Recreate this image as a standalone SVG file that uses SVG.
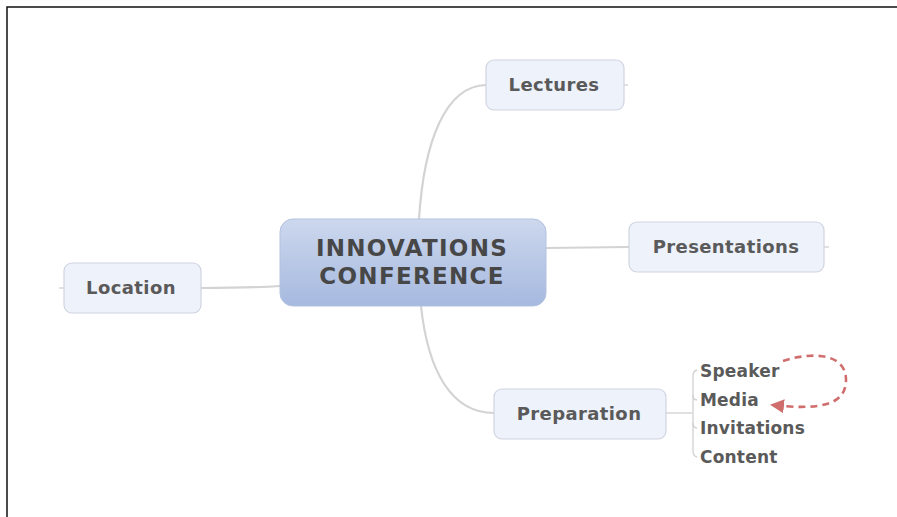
<svg xmlns="http://www.w3.org/2000/svg" width="897" height="517" viewBox="0 0 897 517">
<defs>
<linearGradient id="cg" x1="0" y1="0" x2="0" y2="1">
<stop offset="0" stop-color="#cdd8ee"/>
<stop offset="0.5" stop-color="#b9c8e6"/>
<stop offset="1" stop-color="#a6b9df"/>
</linearGradient>
<marker id="ah" markerWidth="14" markerHeight="14" refX="12" refY="7" orient="auto" markerUnits="userSpaceOnUse" viewBox="0 0 14 14">
<path d="M0,0 L14,7 L0,14 z" fill="#d06e6e"/>
</marker>
<style>
.box{fill:#eef2fb;stroke:#cfd4e0;stroke-width:1.2}
.t{font-family:"DejaVu Sans",Verdana,sans-serif;font-weight:bold;fill:#5a5a5a;text-anchor:middle}
.lbl{font-size:18px;letter-spacing:0.4px}
.sub{font-family:"DejaVu Sans",Verdana,sans-serif;font-weight:bold;fill:#5a5a5a;font-size:17px;letter-spacing:0.2px}
.ctr{font-size:23px;fill:#474747;letter-spacing:1.3px}
.con{fill:none;stroke:#d3d3d3;stroke-width:2.2}
.thin{fill:none;stroke:#d0d0d0;stroke-width:1.3}
</style>
</defs>
<rect width="897" height="517" fill="#ffffff"/>
<path d="M7,517 V7 H897" fill="none" stroke="#111" stroke-width="1.5"/>
<g id="connectors">
<path class="con" d="M419,219 C424,140 446,86 486,85"/>
<path class="con" d="M421,306 C428,372 452,413 494,413"/>
<path class="con" d="M546,248 L629,247"/>
<path class="con" d="M280,286 C250,288 220,288 201,288"/>
<path class="thin" d="M624,85 H628"/>
<path class="thin" d="M824,247 H829"/>
<path class="thin" d="M64,288 H59"/>
<path class="thin" d="M666,413 H692"/>
<path class="thin" d="M697,370 Q693,371 693,376 V451 Q693,456 697,457"/>
<path class="thin" d="M693,395 Q693,400 697,400"/>
<path class="thin" d="M693,423 Q693,428 697,428"/>
<path fill="none" stroke="#d06e6e" stroke-width="2.6" stroke-dasharray="7,5" d="M783,361 C810,352 846,352 846,380 C846,406 818,410 772,405" marker-end="url(#ah)"/>
</g>
<g id="central">
<rect x="280" y="219" width="266" height="87" rx="13" fill="url(#cg)" stroke="#b3c1df" stroke-width="1"/>
<text class="t ctr" x="412" y="256">INNOVATIONS</text>
<text class="t ctr" x="412" y="284">CONFERENCE</text>
</g>
<g id="lectures">
<rect class="box" x="486" y="60" width="138" height="50" rx="8"/>
<text class="t lbl" x="554" y="91">Lectures</text>
</g>
<g id="presentations">
<rect class="box" x="629" y="222" width="195" height="50" rx="8"/>
<text class="t lbl" x="726" y="253">Presentations</text>
</g>
<g id="location">
<rect class="box" x="64" y="263" width="137" height="50" rx="8"/>
<text class="t lbl" x="131" y="294">Location</text>
</g>
<g id="preparation">
<rect class="box" x="494" y="389" width="172" height="50" rx="8"/>
<text class="t lbl" x="579" y="420">Preparation</text>
</g>
<g id="speaker"><text class="sub" x="700" y="377">Speaker</text></g>
<g id="media"><text class="sub" x="700" y="406">Media</text></g>
<g id="invitations"><text class="sub" x="700" y="434">Invitations</text></g>
<g id="content"><text class="sub" x="700" y="463">Content</text></g>
</svg>
